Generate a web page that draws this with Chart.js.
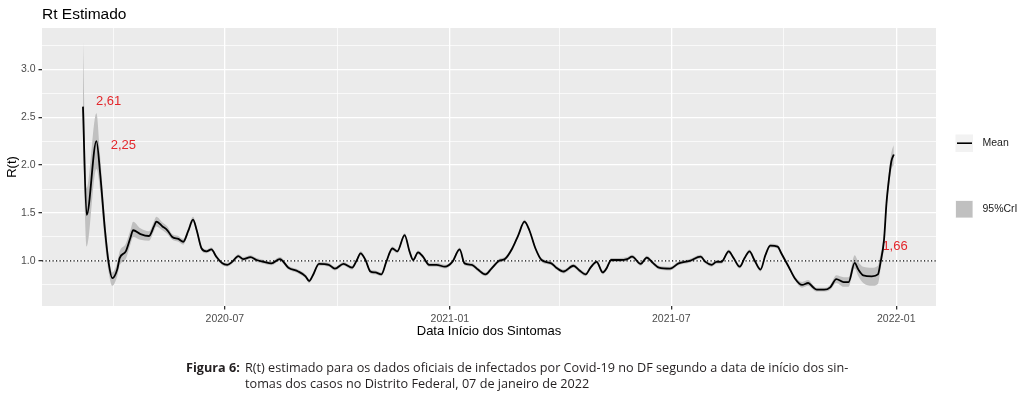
<!DOCTYPE html>
<html><head><meta charset="utf-8">
<script src="https://cdn.jsdelivr.net/npm/chart.js@4/dist/chart.umd.min.js"></script>
<style>
html,body{margin:0;padding:0;background:#fff;}
#wrap{position:relative;width:1024px;height:396px;overflow:hidden;background:#fff;}
canvas{position:absolute;left:0;top:0;}
.cap{position:absolute;white-space:nowrap;font-family:"Liberation Sans Narrow","Open Sans","Noto Sans",sans-serif;font-size:13px;color:#231f20;transform-origin:0 50%;line-height:16px;}
</style></head><body>
<div id="wrap">
<canvas id="c" width="1024" height="396"></canvas>
<div class="cap" id="capLabel" style="left:186px;top:359px;font-weight:bold">Figura 6:</div>
<div class="cap" id="cap1" style="left:245px;top:359px">R(t) estimado para os dados oficiais de infectados por Covid-19 no DF segundo a data de início dos sin-</div>
<div class="cap" id="cap2" style="left:245px;top:375px">tomas dos casos no Distrito Federal, 07 de janeiro de 2022</div>
</div>
<script>
// ---------- DATA ----------
const dates = ['2020-03-07','2020-03-10','2020-03-18','2020-03-21','2020-03-25','2020-03-28','2020-03-31','2020-04-04','2020-04-06','2020-04-11',
'2020-04-15','2020-04-17','2020-04-23','2020-04-30','2020-05-04','2020-05-06','2020-05-11','2020-05-15','2020-05-19','2020-05-24',
'2020-05-28','2020-06-01','2020-06-05','2020-06-08','2020-06-12','2020-06-16','2020-06-20','2020-06-24','2020-06-29','2020-07-03',
'2020-07-07','2020-07-12','2020-07-16','2020-07-22','2020-07-27','2020-08-02','2020-08-08','2020-08-15','2020-08-22','2020-08-30',
'2020-09-05','2020-09-08','2020-09-11','2020-09-16','2020-09-24','2020-09-29','2020-10-06','2020-10-13','2020-10-17','2020-10-20',
'2020-10-24','2020-10-28','2020-11-01','2020-11-06','2020-11-10','2020-11-15','2020-11-19','2020-11-25','2020-11-29','2020-12-02',
'2020-12-06','2020-12-10','2020-12-15','2020-12-21','2020-12-28','2021-01-03','2021-01-09','2021-01-13','2021-01-19','2021-01-24',
'2021-01-30','2021-02-04','2021-02-10','2021-02-15','2021-02-21','2021-02-26','2021-03-03','2021-03-07','2021-03-12','2021-03-17',
'2021-03-25','2021-03-29','2021-04-04','2021-04-12','2021-04-17','2021-04-22','2021-04-26','2021-05-01','2021-05-06','2021-05-09',
'2021-05-13','2021-05-20','2021-05-26','2021-05-30','2021-06-06','2021-06-11','2021-06-16','2021-06-21','2021-06-30','2021-07-07',
'2021-07-16','2021-07-25','2021-07-29','2021-08-03','2021-08-07','2021-08-11','2021-08-17','2021-08-21','2021-08-26','2021-08-30',
'2021-09-03','2021-09-07','2021-09-12','2021-09-16','2021-09-20','2021-09-26','2021-09-29','2021-10-05','2021-10-10','2021-10-16',
'2021-10-21','2021-10-25','2021-10-28','2021-11-03','2021-11-08','2021-11-13','2021-11-19','2021-11-23','2021-11-28','2021-12-01',
'2021-12-05','2021-12-12','2021-12-17','2021-12-19','2021-12-22','2021-12-24','2021-12-26','2021-12-28','2021-12-30'];

const meanR = [2.61,1.48,2.25,1.92,1.32,0.98,0.82,0.91,1.03,1.10,
1.25,1.32,1.28,1.26,1.36,1.41,1.36,1.32,1.25,1.23,
1.20,1.31,1.43,1.32,1.13,1.10,1.12,1.045,0.975,0.96,
0.99,1.05,1.02,1.04,1.01,0.99,0.975,1.02,0.93,0.89,
0.84,0.79,0.85,0.97,0.96,0.92,0.97,0.93,1.01,1.08,
1.01,0.89,0.88,0.86,0.99,1.13,1.10,1.27,1.10,1.01,
1.09,1.045,0.96,0.96,0.94,0.99,1.12,0.975,0.96,0.91,
0.86,0.92,1.00,1.02,1.13,1.27,1.41,1.32,1.13,1.01,
0.975,0.93,0.89,0.95,0.90,0.86,0.93,0.99,0.88,0.92,
1.01,1.01,1.02,1.045,0.97,1.035,0.98,0.93,0.92,0.975,
1.00,1.045,0.99,0.96,0.99,0.99,1.10,1.03,0.94,1.03,
1.10,1.01,0.91,1.06,1.16,1.15,1.08,0.94,0.82,0.75,
0.77,0.725,0.70,0.70,0.725,0.81,0.78,0.78,0.98,0.91,
0.85,0.84,0.86,0.975,1.22,1.60,1.85,2.04,2.11];

const lowerR = [2.25,1.15,1.96,1.74,1.18,0.88,0.74,0.84,0.95,1.02,
1.18,1.25,1.22,1.21,1.31,1.36,1.32,1.28,1.22,1.20,
1.17,1.28,1.40,1.29,1.11,1.08,1.10,1.025,0.955,0.94,
0.97,1.03,1.00,1.02,0.99,0.97,0.955,1.00,0.91,0.87,
0.82,0.77,0.83,0.95,0.94,0.90,0.95,0.91,0.99,1.06,
0.99,0.87,0.86,0.84,0.97,1.11,1.08,1.25,1.08,0.99,
1.07,1.025,0.94,0.94,0.92,0.97,1.10,0.955,0.94,0.89,
0.84,0.90,0.98,1.00,1.11,1.25,1.39,1.30,1.11,0.99,
0.955,0.91,0.87,0.93,0.88,0.84,0.91,0.97,0.86,0.90,
0.99,0.99,1.00,1.025,0.95,1.015,0.96,0.91,0.90,0.955,
0.98,1.025,0.97,0.94,0.97,0.97,1.08,1.01,0.92,1.01,
1.08,0.99,0.89,1.04,1.14,1.13,1.06,0.92,0.80,0.72,
0.74,0.70,0.68,0.68,0.70,0.77,0.73,0.73,0.92,0.84,
0.77,0.74,0.76,0.90,1.15,1.53,1.77,1.95,2.00];

const upperR = [3.30,1.76,2.54,2.10,1.44,1.06,0.88,0.98,1.10,1.18,
1.33,1.41,1.34,1.31,1.41,1.46,1.40,1.36,1.28,1.26,
1.23,1.34,1.46,1.35,1.15,1.12,1.14,1.065,0.995,0.98,
1.01,1.07,1.04,1.06,1.03,1.01,0.995,1.04,0.95,0.91,
0.86,0.81,0.87,0.99,0.98,0.94,0.99,0.95,1.03,1.10,
1.03,0.91,0.90,0.88,1.01,1.15,1.12,1.29,1.12,1.03,
1.11,1.065,0.98,0.98,0.96,1.01,1.14,0.995,0.98,0.93,
0.88,0.94,1.02,1.04,1.15,1.29,1.43,1.34,1.15,1.03,
0.995,0.95,0.91,0.97,0.92,0.88,0.95,1.01,0.90,0.94,
1.03,1.03,1.04,1.065,0.99,1.055,1.00,0.95,0.94,0.995,
1.02,1.065,1.01,0.98,1.01,1.01,1.12,1.05,0.96,1.05,
1.12,1.03,0.93,1.08,1.18,1.17,1.10,0.96,0.84,0.78,
0.80,0.75,0.72,0.72,0.75,0.85,0.83,0.83,1.06,0.99,
0.94,0.93,0.95,1.06,1.29,1.67,1.93,2.13,2.21];

const xMajorTicks = ['2020-07-01','2021-01-01','2021-07-01','2022-01-01'];
const xMajorLabels = ['2020-07','2021-01','2021-07','2022-01'];
const xMinorTicks = ['2020-04-01','2020-10-01','2021-04-01','2021-10-01'];
const yMajorTicks = [1.0,1.5,2.0,2.5,3.0];
const yMajorLabels = ['1.0','1.5','2.0','2.5','3.0'];
const yMinorTicks = [0.75,1.25,1.75,2.25,2.75,3.25];
const xRange = ['2020-02-02','2022-02-02'];
const yRange = [0.53,3.43];
const refLine = 1.0;

const annoLabels = ['2,61','2,25','1,66'];
const annoDates = ['2020-03-28','2020-04-09','2021-12-31'];
const annoValues = [2.66,2.20,1.15];

const legendLabels = ['Mean','95%CrI'];
const titleText = 'Rt Estimado';
// ---------------------------

const dayOf = s => Date.parse(s + 'T00:00:00Z') / 864e5;
const pts = arr => arr.map((v, i) => ({x: dayOf(dates[i]), y: v}));

const FONT = "'Liberation Sans', Arial, Helvetica, sans-serif";
Chart.defaults.font.family = FONT;

const LINE_COLOR = '#000000';
const RIBBON_COLOR = '#C0C0C0';
const PANEL_BG = '#EBEBEB';
const TEXT_RED = '#E3262B';

const xTickObjs = xMajorTicks.map((d, i) => ({value: dayOf(d), label: xMajorLabels[i], minor: false}))
  .concat(xMinorTicks.map(d => ({value: dayOf(d), label: '', minor: true})));
const yTickObjs = yMajorTicks.map((v, i) => ({value: v, label: yMajorLabels[i], minor: false}))
  .concat(yMinorTicks.map(v => ({value: v, label: '', minor: true})));

const panelBg = {
  id: 'panelBg',
  beforeDraw(chart) {
    const {ctx, chartArea: a} = chart;
    ctx.save();
    ctx.fillStyle = '#fff';
    ctx.fillRect(0, 0, chart.width, chart.height);
    ctx.fillStyle = PANEL_BG;
    ctx.fillRect(a.left, a.top, a.right - a.left, a.bottom - a.top);
    ctx.fillStyle = '#000';
    ctx.font = '15.5px ' + FONT;
    ctx.textBaseline = 'alphabetic';
    ctx.textAlign = 'left';
    ctx.fillText(titleText, a.left, 18.5);
    ctx.restore();
  },
  beforeDatasetsDraw(chart) {
    const {ctx, scales: {x, y}} = chart;
    ctx.save();
    ctx.fillStyle = TEXT_RED;
    ctx.font = '13px ' + FONT;
    ctx.textAlign = 'center';
    ctx.textBaseline = 'middle';
    annoLabels.forEach((t, i) => {
      ctx.fillText(t, x.getPixelForValue(dayOf(annoDates[i])), y.getPixelForValue(annoValues[i]));
    });
    ctx.restore();
  },
  afterDatasetsDraw(chart) {
    const {ctx, chartArea: a, scales: {y}} = chart;
    const yy = y.getPixelForValue(refLine);
    ctx.save();
    ctx.strokeStyle = '#000';
    ctx.lineWidth = 1.2;
    ctx.setLineDash([1.2, 2.3]);
    ctx.beginPath();
    ctx.moveTo(a.left, yy);
    ctx.lineTo(a.right, yy);
    ctx.stroke();
    ctx.restore();
  },
  afterDraw(chart) {
    const {ctx} = chart;
    ctx.save();
    ctx.fillStyle = '#F2F2F2';
    ctx.fillRect(955.5, 134.5, 17.5, 17.5);
    ctx.strokeStyle = LINE_COLOR;
    ctx.lineWidth = 1.6;
    ctx.beginPath();
    ctx.moveTo(957, 143.2);
    ctx.lineTo(972, 143.2);
    ctx.stroke();
    ctx.fillStyle = '#F2F2F2';
    ctx.fillRect(955.5, 200.5, 17.5, 17.5);
    ctx.fillStyle = RIBBON_COLOR;
    ctx.fillRect(956, 201, 16.5, 16.5);
    ctx.fillStyle = '#1a1a1a';
    ctx.font = '10.5px ' + FONT;
    ctx.textAlign = 'left';
    ctx.textBaseline = 'middle';
    ctx.fillText(legendLabels[0], 982.5, 143.5);
    ctx.fillText(legendLabels[1], 982.5, 209.5);
    ctx.restore();
  }
};

new Chart(document.getElementById('c'), {
  type: 'line',
  data: {
    datasets: [
      {label: legendLabels[0], data: pts(meanR), borderColor: LINE_COLOR, borderWidth: 1.8,
       pointRadius: 0, fill: false, cubicInterpolationMode: 'monotone'},
      {label: legendLabels[1], data: pts(upperR), borderWidth: 0, borderColor: 'rgba(0,0,0,0)',
       backgroundColor: RIBBON_COLOR, pointRadius: 0, fill: '+1', cubicInterpolationMode: 'monotone'},
      {label: 'lower', data: pts(lowerR), borderWidth: 0, borderColor: 'rgba(0,0,0,0)',
       pointRadius: 0, fill: false, cubicInterpolationMode: 'monotone'}
    ]
  },
  options: {
    responsive: false,
    animation: false,
    devicePixelRatio: 1,
    layout: {padding: {left: 0, right: 88, top: 28, bottom: 55}},
    plugins: {legend: {display: false}, tooltip: {enabled: false}, title: {display: false}},
    scales: {
      x: {
        type: 'linear',
        min: dayOf(xRange[0]) + 0.5,
        max: dayOf(xRange[1]) + 0.5,
        afterFit(s) { s.height = 35; },
        afterBuildTicks(s) { s.ticks = xTickObjs.map(t => ({value: t.value, minor: t.minor})); },
        ticks: {
          autoSkip: false, maxRotation: 0, padding: 3, color: '#4D4D4D',
          font: {size: 10.5},
          callback(v) { const t = xTickObjs.find(o => Math.abs(o.value - v) < 1e-6); return t ? t.label : ''; }
        },
        grid: {
          color: '#FFFFFF',
          lineWidth: c => (c.tick && c.tick.minor) ? 0.7 : 1.3,
          tickColor: c => (c.tick && c.tick.minor) ? 'rgba(0,0,0,0)' : '#333333',
          tickLength: 3.5,
          drawTicks: true
        },
        border: {display: false},
        title: {display: true, text: 'Data Início dos Sintomas', color: '#000', font: {size: 13}, padding: {top: 0, bottom: 2}}
      },
      y: {
        type: 'linear',
        min: yRange[0], max: yRange[1],
        afterFit(s) { s.width = 42; },
        afterBuildTicks(s) { s.ticks = yTickObjs.map(t => ({value: t.value, minor: t.minor})); },
        ticks: {
          autoSkip: false, padding: 3, color: '#4D4D4D',
          font: {size: 10.5},
          callback(v) { const t = yTickObjs.find(o => Math.abs(o.value - v) < 1e-6); return t ? t.label : ''; }
        },
        grid: {
          color: '#FFFFFF',
          lineWidth: c => (c.tick && c.tick.minor) ? 0.7 : 1.3,
          tickColor: c => (c.tick && c.tick.minor) ? 'rgba(0,0,0,0)' : '#333333',
          tickLength: 3.5,
          drawTicks: true
        },
        border: {display: false},
        title: {display: true, text: 'R(t)', color: '#000', font: {size: 13}, padding: {top: 5, bottom: 0}}
      }
    }
  },
  plugins: [panelBg]
});

function fitCaption() {
  const c1 = document.getElementById('cap1');
  const w = c1.offsetWidth;
  const k = 603 / w;
  ['capLabel', 'cap1', 'cap2'].forEach(id => {
    document.getElementById(id).style.transform = 'scaleX(' + k + ')';
  });
}
fitCaption();
if (document.fonts && document.fonts.ready) document.fonts.ready.then(fitCaption);
</script>
</body></html>
